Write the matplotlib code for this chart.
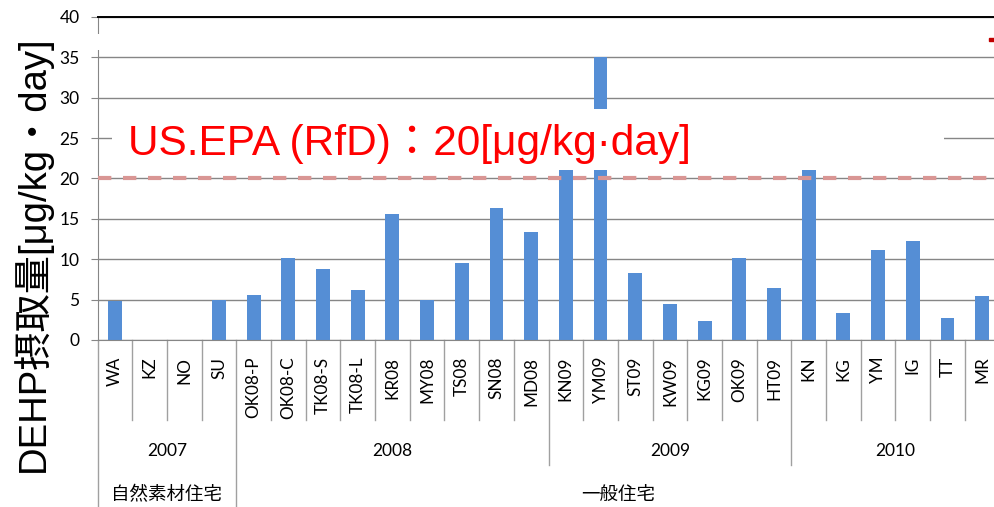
import matplotlib.pyplot as plt
import matplotlib.transforms as mtransforms
from matplotlib.patches import Rectangle

# data
categories = ["WA", "KZ", "NO", "SU",
              "OK08-P", "OK08-C", "TK08-S", "TK08-L", "KR08", "MY08", "TS08", "SN08", "MD08",
              "KN09", "YM09", "ST09", "KW09", "KG09", "OK09", "HT09",
              "KN", "KG", "YM", "IG", "TT", "MR"]
values = [4.8, 0, 0, 4.9,
          5.6, 10.1, 8.8, 6.2, 15.6, 5.0, 9.5, 16.4, 13.4,
          21.1, 35.0, 8.3, 4.5, 2.3, 10.2, 6.4,
          21.1, 3.4, 11.2, 12.3, 2.7, 5.4]
years = ["2007", "2008", "2009", "2010"]
year_sizes = [4, 9, 7, 6]
house_types = ["自然素材住宅", "一般住宅"]
house_sizes = [4, 22]
rfd = 20
yticks = [0, 5, 10, 15, 20, 25, 30, 35, 40]

plt.rcParams['font.family'] = ['Lato', 'Noto Sans CJK JP']
grey = '#868686'

fig = plt.figure(figsize=(9.94, 5.07), dpi=100)
W, H = 994, 507
ax = fig.add_axes([97.5 / W, 1 - 340 / H, 902 / W, 323 / H])

x = list(range(len(categories)))
ax.bar(x, values, width=0.4, color='#558ED5', zorder=2)

ax.set_xlim(-0.5, len(categories) - 0.5)
ax.set_ylim(0, 40)
ax.set_yticks(yticks)
ax.tick_params(axis='y', length=5, color=grey, pad=8, labelsize=12.5)
ax.yaxis.grid(True, color=grey, lw=1)
ax.set_axisbelow(True)

ax.set_xticks(x)
ax.set_xticklabels(categories, rotation=90, fontsize=12.3)
ax.tick_params(axis='x', length=0, pad=12)

for s in ['left', 'bottom']:
    ax.spines[s].set_color(grey)
ax.spines['right'].set_visible(False)
ax.spines['top'].set_color('black')
ax.spines['top'].set_linewidth(1.4)

# RfD reference line
ax.axhline(rfd, color='#D99694', lw=3, dashes=(3.2, 2.8), zorder=4)

# white cover over the broken region
trans = mtransforms.blended_transform_factory(ax.transAxes, ax.transData)
ax.add_patch(Rectangle((0.016, 21.1), 0.9225, 7.5, transform=trans,
                       facecolor='white', edgecolor='none', zorder=3))
ax.add_patch(Rectangle((-0.01, 35.9), 0.015, 2.0, transform=trans,
                       facecolor='white', edgecolor='none', zorder=10, clip_on=False))

fig.text(128 / W, 1 - 155 / H, "US.EPA (RfD)：20[μg/kg·day]", color='red',
         fontsize=30.5, family=['Liberation Sans', 'Noto Sans CJK JP'],
         ha='left', va='baseline', zorder=6)

# category table below the axis
tb = mtransforms.blended_transform_factory(ax.transData, ax.transAxes)
year_bounds = [-0.5]
for n in year_sizes:
    year_bounds.append(year_bounds[-1] + n)
house_bounds = [-0.5]
for n in house_sizes:
    house_bounds.append(house_bounds[-1] + n)

for i in range(len(categories) + 1):
    b = i - 0.5
    if b in house_bounds:
        y_end = -0.53
    elif b in year_bounds:
        y_end = -0.387
    else:
        y_end = -0.248
    ax.plot([b, b], [0, y_end], transform=tb, color='#A0A0A0', lw=1, clip_on=False)

for i, yr in enumerate(years):
    cx = (year_bounds[i] + year_bounds[i + 1]) / 2
    ax.text(cx, -0.344, yr, transform=tb, ha='center', va='center', fontsize=12.5)
for i, h in enumerate(house_types):
    cx = (house_bounds[i] + house_bounds[i + 1]) / 2
    ax.text(cx, -0.477, h, transform=tb, ha='center', va='center', fontsize=13.3)

fig.text(32 / W, 1 - 254 / H, "DEHP摂取量[μg/kg・day]", rotation=90,
         fontsize=27.5, family=['Liberation Sans', 'Noto Sans CJK JP'],
         ha='center', va='center')

# small legend remnant at top right
fig.add_artist(Rectangle((989 / W, 1 - 41 / H), 5 / W, 3 / H, color='#C00000',
                         transform=fig.transFigure))

fig.savefig("out.png", dpi=100)
